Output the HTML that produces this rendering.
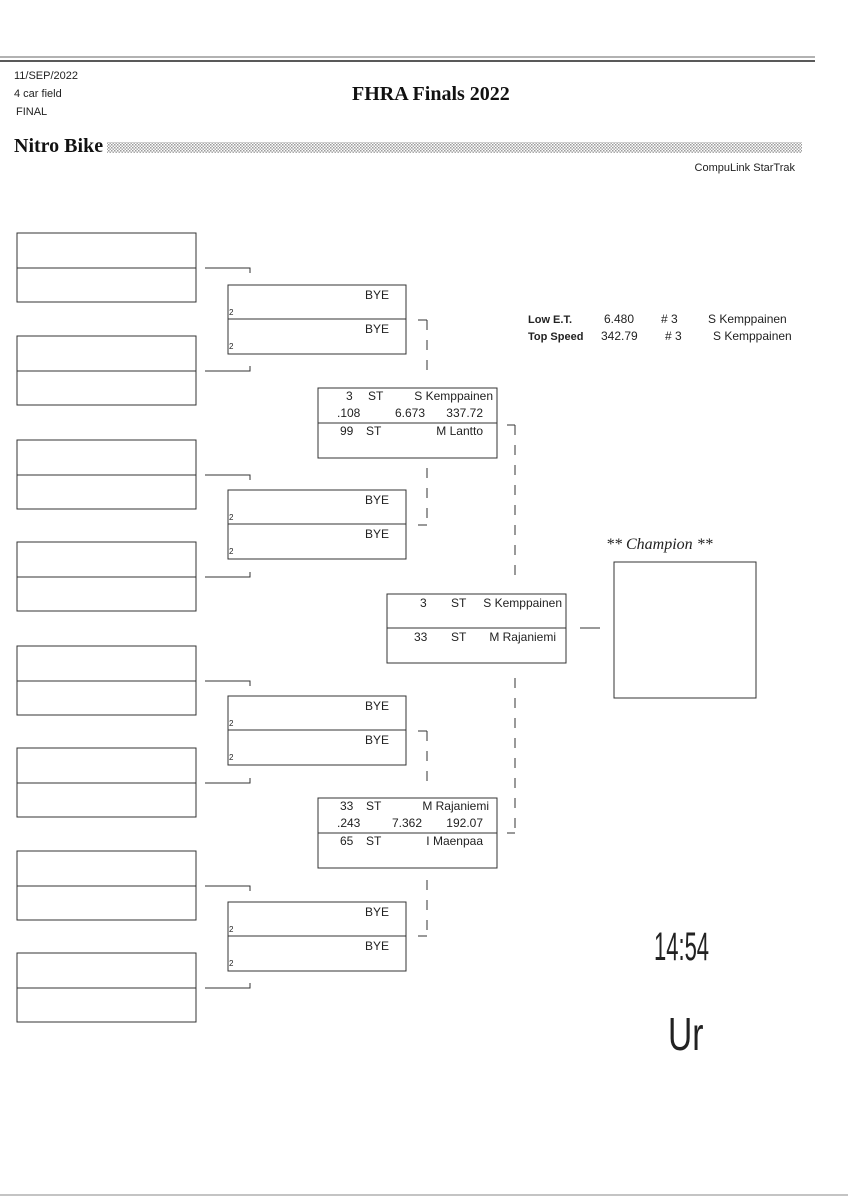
<!DOCTYPE html>
<html><head><meta charset="utf-8"><style>
html,body{margin:0;padding:0;background:#fff;}
svg{display:block;}
.m{font-family:"Liberation Sans",sans-serif;font-size:12px;fill:#222;}
.s{font-family:"Liberation Sans",sans-serif;font-size:8px;fill:#222;}
</style></head><body>
<svg width="848" height="1200" viewBox="0 0 848 1200" xmlns="http://www.w3.org/2000/svg">
<defs>
<pattern id="dots" width="3" height="3" patternUnits="userSpaceOnUse"><rect width="3" height="3" fill="#fff"/><rect width="1.5" height="1.5" fill="#999"/><rect x="1.5" y="1.5" width="1.5" height="1.5" fill="#aaa"/></pattern>
</defs>
<line x1="0" y1="57" x2="815" y2="57" stroke="#999" stroke-width="1.5"/>
<line x1="0" y1="61" x2="815" y2="61" stroke="#222" stroke-width="1.5"/>
<line x1="0" y1="1195" x2="848" y2="1195" stroke="#888" stroke-width="1"/>
<text x="14" y="79" font-family="Liberation Sans,sans-serif" font-size="11" fill="#222">11/SEP/2022</text>
<text x="14" y="97" font-family="Liberation Sans,sans-serif" font-size="11" fill="#222">4 car field</text>
<text x="16" y="115" font-family="Liberation Sans,sans-serif" font-size="11" fill="#222">FINAL</text>
<text x="352" y="100" font-family="Liberation Serif,serif" font-size="20" font-weight="bold" fill="#111">FHRA Finals 2022</text>
<text x="14" y="152" font-family="Liberation Serif,serif" font-size="20" font-weight="bold" fill="#111">Nitro Bike</text>
<rect x="107" y="142" width="695" height="11" fill="url(#dots)"/>
<text x="795" y="171" text-anchor="end" font-family="Liberation Sans,sans-serif" font-size="11" fill="#222">CompuLink StarTrak</text>

<g fill="none" stroke="#333" stroke-width="1">
<rect x="17" y="233" width="179" height="69"/><line x1="17" y1="268" x2="196" y2="268"/>
<rect x="17" y="336" width="179" height="69"/><line x1="17" y1="371" x2="196" y2="371"/>
<rect x="17" y="440" width="179" height="69"/><line x1="17" y1="475" x2="196" y2="475"/>
<rect x="17" y="542" width="179" height="69"/><line x1="17" y1="577" x2="196" y2="577"/>
<rect x="17" y="646" width="179" height="69"/><line x1="17" y1="681" x2="196" y2="681"/>
<rect x="17" y="748" width="179" height="69"/><line x1="17" y1="783" x2="196" y2="783"/>
<rect x="17" y="851" width="179" height="69"/><line x1="17" y1="886" x2="196" y2="886"/>
<rect x="17" y="953" width="179" height="69"/><line x1="17" y1="988" x2="196" y2="988"/>
<path d="M205 268H250V273M205 371H250V366"/>
<path d="M205 475H250V480M205 577H250V572"/>
<path d="M205 681H250V686M205 783H250V778"/>
<path d="M205 886H250V891M205 988H250V983"/>
<rect x="228" y="285" width="178" height="69"/><line x1="228" y1="319" x2="406" y2="319"/>
<rect x="228" y="490" width="178" height="69"/><line x1="228" y1="524" x2="406" y2="524"/>
<rect x="228" y="696" width="178" height="69"/><line x1="228" y1="730" x2="406" y2="730"/>
<rect x="228" y="902" width="178" height="69"/><line x1="228" y1="936" x2="406" y2="936"/>
<path d="M418 320H427"/><path d="M427 320V380" stroke-dasharray="10,10"/>
<path d="M427 468V525" stroke-dasharray="10,10"/><path d="M418 525H427"/>
<path d="M418 731H427"/><path d="M427 731V790" stroke-dasharray="10,10"/>
<path d="M427 880V936" stroke-dasharray="10,10"/><path d="M418 936H427"/>
<rect x="318" y="388" width="179" height="70"/><line x1="318" y1="423" x2="497" y2="423"/>
<rect x="318" y="798" width="179" height="70"/><line x1="318" y1="833" x2="497" y2="833"/>
<path d="M507 425H515"/><path d="M515 425V582" stroke-dasharray="10,10"/>
<path d="M515 678V833" stroke-dasharray="10,10"/><path d="M507 833H515"/>
<rect x="387" y="594" width="179" height="69"/><line x1="387" y1="628" x2="566" y2="628"/>
<line x1="580" y1="628" x2="600" y2="628"/>
<rect x="614" y="562" width="142" height="136"/>
</g>

<g class="m">
<text x="365" y="299">BYE</text><text x="365" y="333">BYE</text>
<text x="365" y="504">BYE</text><text x="365" y="538">BYE</text>
<text x="365" y="710">BYE</text><text x="365" y="744">BYE</text>
<text x="365" y="916">BYE</text><text x="365" y="950">BYE</text>
</g>
<g class="s">
<text x="229" y="315">2</text><text x="229" y="349">2</text>
<text x="229" y="520">2</text><text x="229" y="554">2</text>
<text x="229" y="726">2</text><text x="229" y="760">2</text>
<text x="229" y="932">2</text><text x="229" y="966">2</text>
</g>
<g class="m">
<text x="346" y="400">3</text><text x="368" y="400">ST</text><text x="493" y="400" text-anchor="end">S Kemppainen</text>
<text x="337" y="417">.108</text><text x="395" y="417">6.673</text><text x="483" y="417" text-anchor="end">337.72</text>
<text x="340" y="435">99</text><text x="366" y="435">ST</text><text x="483" y="435" text-anchor="end">M Lantto</text>

<text x="340" y="810">33</text><text x="366" y="810">ST</text><text x="489" y="810" text-anchor="end">M Rajaniemi</text>
<text x="337" y="827">.243</text><text x="392" y="827">7.362</text><text x="483" y="827" text-anchor="end">192.07</text>
<text x="340" y="845">65</text><text x="366" y="845">ST</text><text x="483" y="845" text-anchor="end">I Maenpaa</text>

<text x="420" y="607">3</text><text x="451" y="607">ST</text><text x="562" y="607" text-anchor="end">S Kemppainen</text>
<text x="414" y="641">33</text><text x="451" y="641">ST</text><text x="556" y="641" text-anchor="end">M Rajaniemi</text>
</g>
<g font-family="Liberation Sans,sans-serif" font-size="11" fill="#222">
<text x="528" y="323" font-weight="bold">Low  E.T.</text>
<text x="528" y="340" font-weight="bold">Top Speed</text>
</g>
<g class="m">
<text x="604" y="323">6.480</text><text x="661" y="323"># 3</text><text x="708" y="323">S Kemppainen</text>
<text x="601" y="340">342.79</text><text x="665" y="340"># 3</text><text x="713" y="340">S Kemppainen</text>
</g>
<text x="606" y="549" font-family="Liberation Serif,serif" font-size="16" font-style="italic" fill="#222">** Champion **</text>
<text transform="translate(654,960) scale(0.55,1)" x="0" y="0" font-family="Liberation Sans,sans-serif" font-size="40" fill="#222">14:54</text>
<text transform="translate(668,1050) scale(0.8,1.1)" x="0" y="0" font-family="Liberation Sans,sans-serif" font-size="42" fill="#222">Ur</text>
</svg>
</body></html>
